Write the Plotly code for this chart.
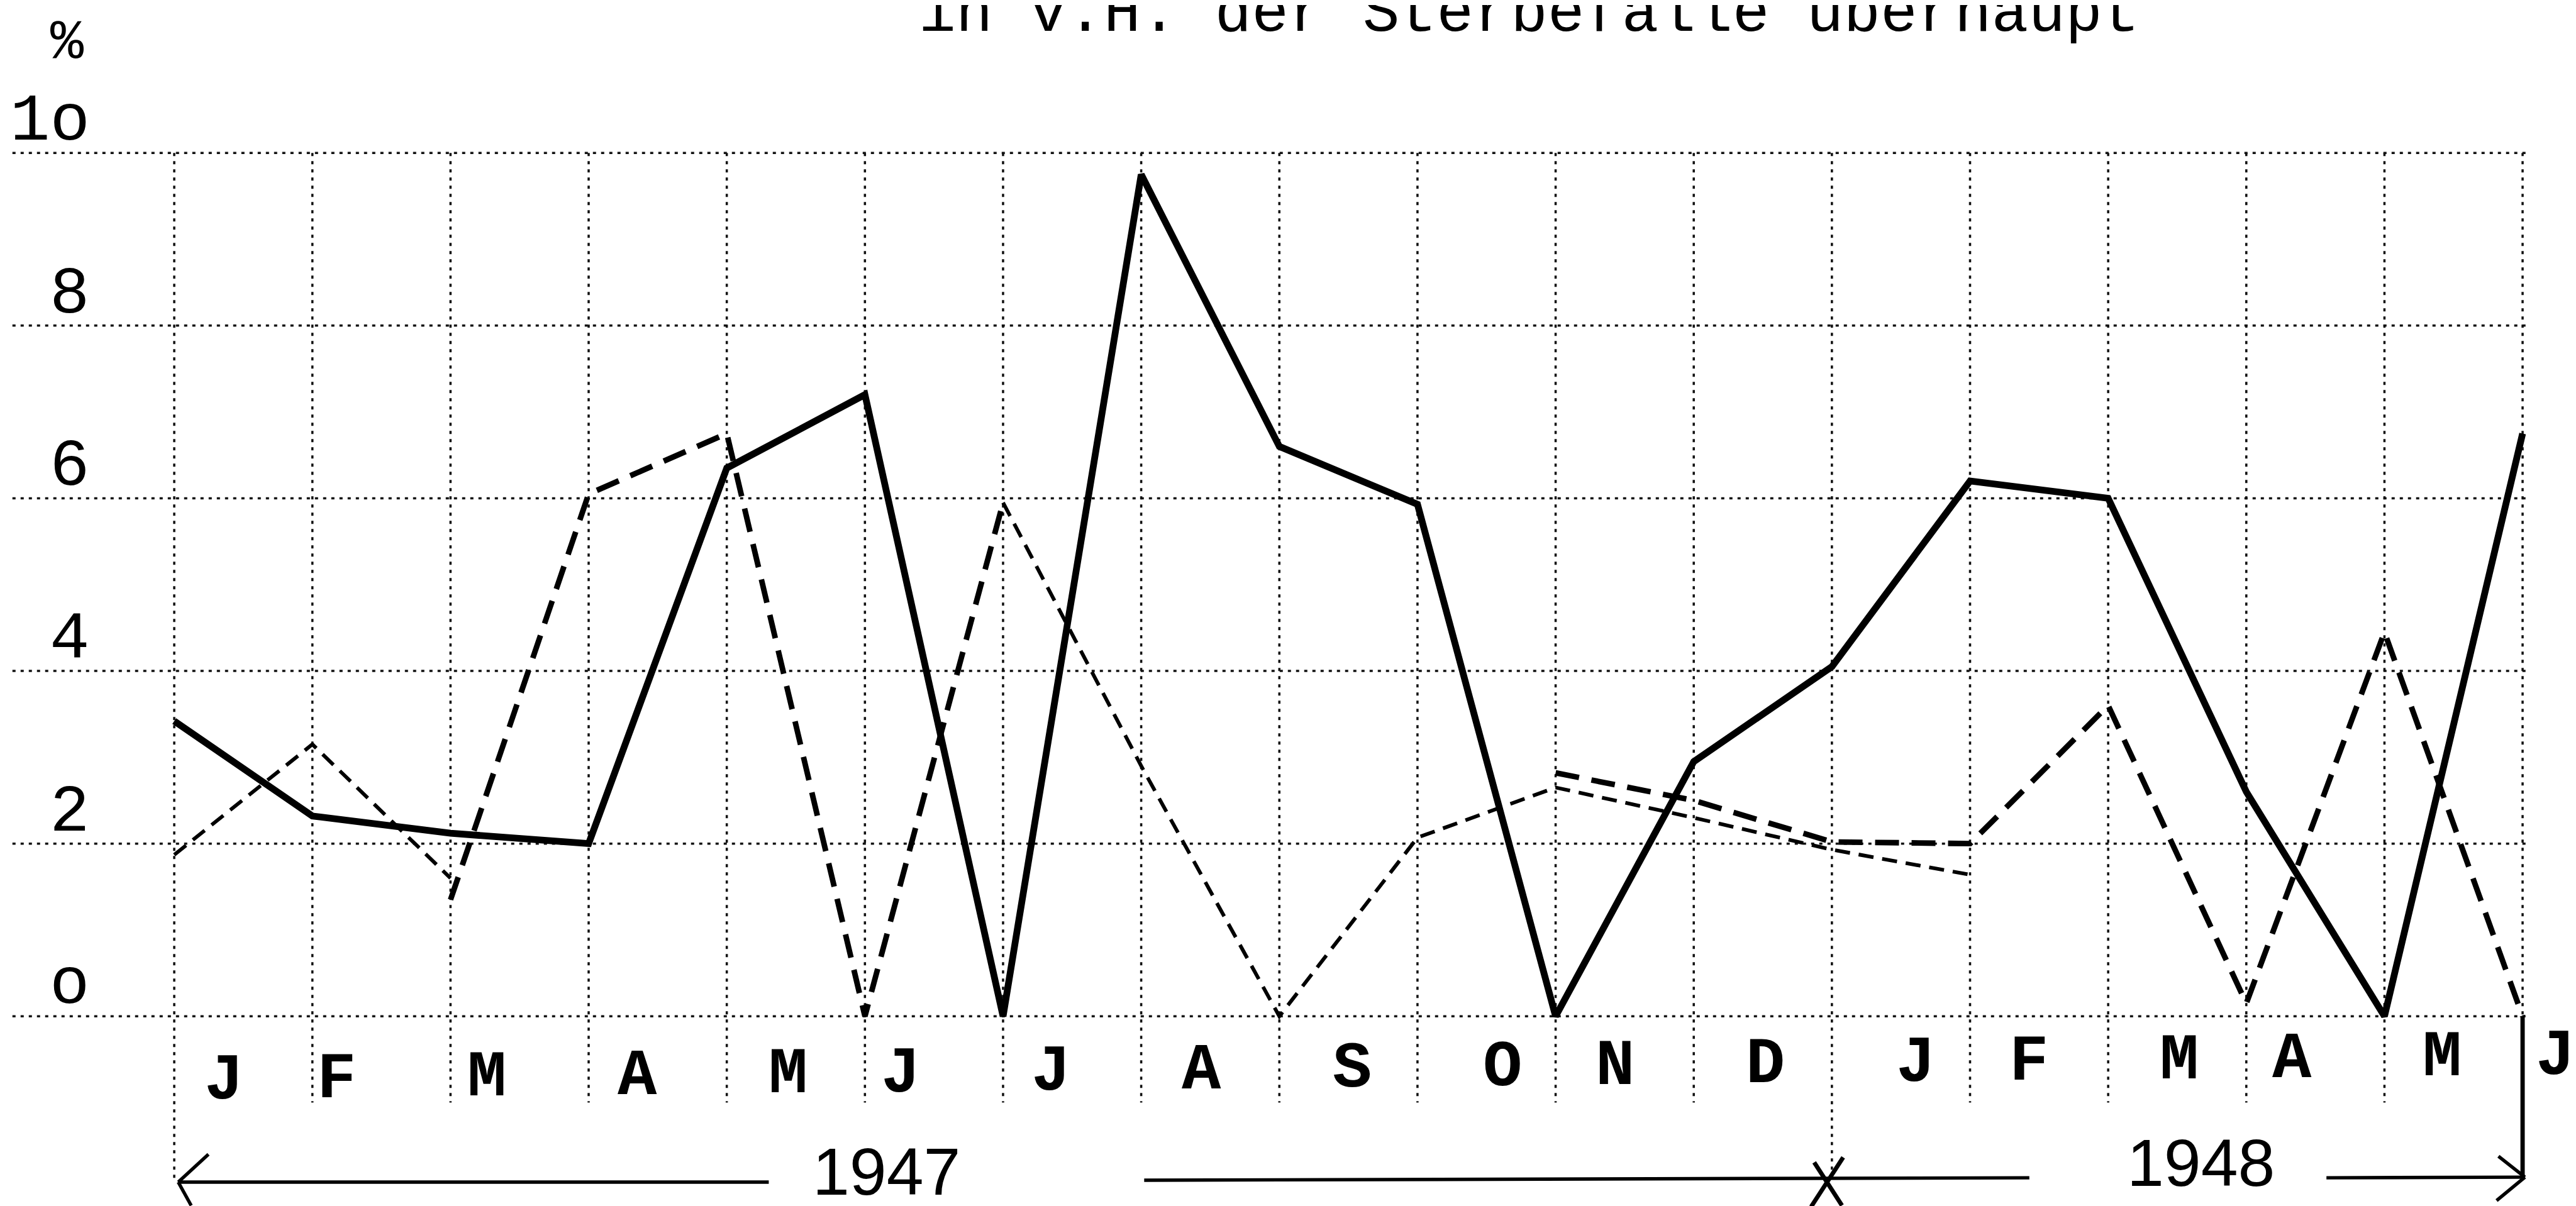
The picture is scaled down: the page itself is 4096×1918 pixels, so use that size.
import plotly.graph_objects as go

# ---------------- data ----------------
months = ["J", "F", "M", "A", "M", "J", "J", "A", "S", "O", "N", "D",
          "J", "F", "M", "A", "M", "J"]
years = ["1947", "1948"]
year_first_month = [0, 12]
y_ticks = [0, 2, 4, 6, 8, 10]
y_tick_labels = ["o", "2", "4", "6", "8", "1o"]
unit_label = "%"
title_text = "in v.H. der Sterbefälle überhaupt"

series_solid = [3.42, 2.32, 2.12, 2.0, 6.35, 7.2, 0.0, 9.75, 6.6, 5.93,
                0.0, 2.95, 4.05, 6.2, 6.0, 2.6, 0.0, 6.75]
series_dashed = [None, None, 1.35, 6.05, 6.75, 0.0, 5.95, None, None, None,
                 2.82, 2.5, 2.02, 2.0, 3.6, 0.15, 4.45, 0.0]
series_dashdot = [1.87, 3.15, 1.6, None, None, None, 5.95, 2.9, 0.0, 2.07,
                  2.65, 2.3, 1.93, 1.64, None, None, None, None]

# typewriter column gaps between the month letters
month_gaps = [3, 4, 4, 4, 3, 4, 4, 4, 4, 3, 4, 4, 3, 4, 3, 4, 3]

# ---------------- layout helpers ----------------
S = 0.98                       # output / reference scale
X0, DX = 274.5, 224.1          # reference px of month index 0, px per month
Y0, DY = 1641.0, 140.1         # reference px of value 0, px per unit


def ix(px):
    return (px - X0) / DX


def vy(py):
    return (Y0 - py) / DY


W, H = 4096, 1918
fig = go.Figure()

x_idx = list(range(len(months)))
fig.add_trace(go.Scatter(x=x_idx, y=series_solid, mode="lines",
                         line=dict(color="#000", width=11 * S)))
fig.add_trace(go.Scatter(x=x_idx, y=series_dashed, mode="lines",
                         line=dict(color="#000", width=9 * S, dash="38px,20px")))
fig.add_trace(go.Scatter(x=x_idx, y=series_dashdot, mode="lines",
                         line=dict(color="#000", width=6 * S, dash="24px,14px")))

shapes = []
grid_line = dict(color="#111", width=3.6 * S, dash="5px,8px")
arrow_y = vy(1906)
# horizontal grid
for v in y_ticks:
    shapes.append(dict(type="line", xref="x", yref="y", x0=ix(12), x1=ix(4090),
                       y0=v, y1=v, line=grid_line, layer="below"))
# vertical grid
last = len(months) - 1
for i in x_idx:
    bottom = arrow_y if (i == 0 or i in year_first_month) else -1.0
    if i == last:
        bottom = 0
    shapes.append(dict(type="line", xref="x", yref="y", x0=i, x1=i,
                       y0=max(y_ticks), y1=bottom, line=grid_line, layer="below"))
# right border below zero (solid)
shapes.append(dict(type="line", xref="x", yref="y", x0=last, x1=last, y0=0, y1=arrow_y,
                   line=dict(color="#000", width=7 * S)))

arrow_line = dict(color="#000", width=5.5 * S)


def seg(xa, ya, xb, yb, line=arrow_line):
    shapes.append(dict(type="line", xref="x", yref="y", x0=ix(xa), y0=vy(ya),
                       x1=ix(xb), y1=vy(yb), line=line))


# left arrow
seg(281, 1910, 1239, 1910)
seg(281, 1910, 330, 1865)
seg(281, 1910, 302, 1948)
# middle segment with year mark
seg(1848, 1907, 3284, 1903)
seg(2930, 1950, 2982, 1870, dict(color="#000", width=7 * S))
seg(2935, 1878, 2980, 1948, dict(color="#000", width=7 * S))
# right arrow
seg(3766, 1903, 4088, 1902)
seg(4088, 1902, 4045, 1868)
seg(4088, 1902, 4042, 1940)

annotations = []
mono = "Liberation Mono, DejaVu Sans Mono, monospace"

# title (cut by the top edge, as in the scan)
annotations.append(dict(text=title_text, x=ix(2473), y=vy(15), xref="x", yref="y",
                        showarrow=False, xanchor="center", yanchor="middle",
                        font=dict(family=mono, size=100 * S, color="#000")))

# month letters (typed line, slightly tilted)
cols = [0]
for g in month_gaps:
    cols.append(cols[-1] + g)
ncol = cols[-1]
for m, c in zip(months, cols):
    annotations.append(dict(text="<b>%s</b>" % m, x=ix(355 + 61 * c),
                            y=vy(1742 - 39 * c / ncol + 4), xref="x", yref="y",
                            showarrow=False, xanchor="center", yanchor="middle",
                            font=dict(family=mono, size=106 * S, color="#000")))

# y tick labels
for v, t in zip(y_ticks, y_tick_labels):
    annotations.append(dict(text=t, x=ix(140), y=v + 50 / DY, xref="x", yref="y",
                            showarrow=False, xanchor="right", yanchor="middle",
                            font=dict(family=mono, size=108 * S, color="#000")))
annotations.append(dict(text=unit_label, x=ix(100), y=vy(62), xref="x", yref="y",
                        showarrow=False, xanchor="center", yanchor="middle",
                        font=dict(family=mono, size=90 * S, color="#000")))

# years
year_pos = [(1430, 1893), (3562, 1878)]
for yr, (px, py) in zip(years, year_pos):
    annotations.append(dict(text=yr, x=ix(px), y=vy(py), xref="x", yref="y",
                            showarrow=False, xanchor="center", yanchor="middle",
                            font=dict(family="Liberation Sans Narrow, Liberation Sans, sans-serif",
                                      size=108 * S, color="#000")))

fig.update_layout(
    width=W, height=H,
    margin=dict(l=0, r=0, t=0, b=0, pad=0),
    paper_bgcolor="white", plot_bgcolor="white",
    showlegend=False,
    xaxis=dict(range=[ix(0), ix(4179)], visible=False, fixedrange=True),
    yaxis=dict(range=[vy(1957), vy(0)], visible=False, fixedrange=True),
    shapes=shapes, annotations=annotations,
)

fig.write_html("out.html")
